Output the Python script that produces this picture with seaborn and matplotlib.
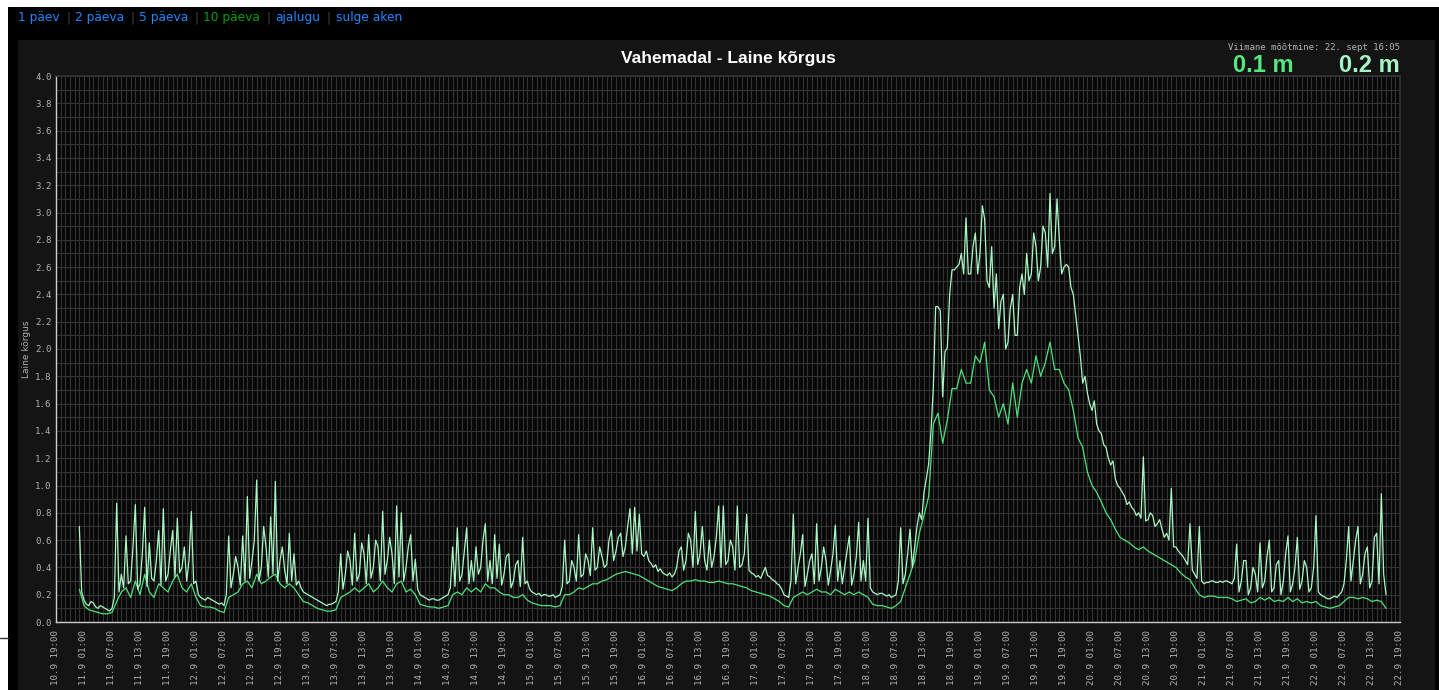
import matplotlib
matplotlib.use('Agg')
import matplotlib.pyplot as plt
import matplotlib.dates as mdates
from matplotlib.ticker import MultipleLocator, FuncFormatter
from matplotlib.patches import Rectangle
import pandas as pd
import seaborn as sns

# max wave height (m), half-hourly readings 00:00, 00:30 ... 23:30 per day
hmax_11 = [0.70, 0.22, 0.16, 0.13, 0.12, 0.15, 0.14, 0.11, 0.10, 0.12, 0.11, 0.10,
           0.09, 0.08, 0.10, 0.18, 0.87, 0.22, 0.35, 0.25, 0.63, 0.28, 0.30, 0.55,
           0.86, 0.24, 0.28, 0.50, 0.84, 0.26, 0.58, 0.32, 0.30, 0.45, 0.67, 0.27,
           0.83, 0.30, 0.35, 0.52, 0.67, 0.33, 0.76, 0.36, 0.40, 0.55, 0.30, 0.45]
hmax_12 = [0.81, 0.28, 0.30, 0.20, 0.18, 0.17, 0.16, 0.18, 0.17, 0.16, 0.15, 0.14,
           0.13, 0.14, 0.12, 0.20, 0.63, 0.25, 0.35, 0.48, 0.40, 0.27, 0.63, 0.30,
           0.92, 0.32, 0.45, 0.60, 1.04, 0.30, 0.40, 0.70, 0.55, 0.33, 0.77, 0.35,
           1.03, 0.30, 0.45, 0.55, 0.38, 0.28, 0.65, 0.30, 0.50, 0.27, 0.30, 0.25]
hmax_13 = [0.22, 0.21, 0.20, 0.19, 0.18, 0.17, 0.16, 0.15, 0.14, 0.13, 0.12, 0.13,
           0.13, 0.14, 0.15, 0.22, 0.50, 0.24, 0.35, 0.52, 0.45, 0.27, 0.65, 0.30,
           0.35, 0.58, 0.50, 0.28, 0.64, 0.32, 0.40, 0.60, 0.55, 0.30, 0.81, 0.35,
           0.45, 0.62, 0.50, 0.28, 0.85, 0.33, 0.80, 0.30, 0.40, 0.55, 0.64, 0.30]
hmax_14 = [0.46, 0.24, 0.20, 0.19, 0.18, 0.17, 0.16, 0.17, 0.17, 0.16, 0.16, 0.17,
           0.18, 0.19, 0.20, 0.25, 0.55, 0.26, 0.69, 0.30, 0.35, 0.52, 0.69, 0.28,
           0.45, 0.30, 0.55, 0.35, 0.40, 0.60, 0.72, 0.30, 0.45, 0.28, 0.64, 0.32,
           0.57, 0.27, 0.35, 0.48, 0.50, 0.25, 0.30, 0.42, 0.45, 0.26, 0.62, 0.28]
hmax_15 = [0.30, 0.24, 0.22, 0.21, 0.20, 0.21, 0.19, 0.20, 0.20, 0.19, 0.19, 0.20,
           0.18, 0.19, 0.20, 0.26, 0.60, 0.28, 0.30, 0.45, 0.40, 0.30, 0.64, 0.33,
           0.35, 0.50, 0.45, 0.34, 0.69, 0.38, 0.40, 0.55, 0.48, 0.40, 0.42, 0.60,
           0.67, 0.45, 0.52, 0.62, 0.65, 0.48, 0.55, 0.70, 0.83, 0.50, 0.84, 0.52]
hmax_16 = [0.79, 0.50, 0.48, 0.52, 0.45, 0.43, 0.40, 0.42, 0.37, 0.39, 0.36, 0.35,
           0.34, 0.36, 0.33, 0.35, 0.40, 0.52, 0.55, 0.38, 0.45, 0.65, 0.60, 0.40,
           0.81, 0.42, 0.50, 0.70, 0.45, 0.38, 0.60, 0.40, 0.48, 0.62, 0.85, 0.40,
           0.85, 0.42, 0.45, 0.60, 0.55, 0.38, 0.85, 0.40, 0.42, 0.50, 0.79, 0.38]
hmax_17 = [0.36, 0.35, 0.33, 0.34, 0.32, 0.36, 0.40, 0.34, 0.33, 0.31, 0.30, 0.28,
           0.27, 0.24, 0.20, 0.19, 0.18, 0.30, 0.79, 0.28, 0.40, 0.50, 0.64, 0.26,
           0.35, 0.45, 0.50, 0.28, 0.72, 0.30, 0.40, 0.55, 0.45, 0.27, 0.38, 0.50,
           0.71, 0.30, 0.45, 0.28, 0.40, 0.52, 0.63, 0.27, 0.35, 0.48, 0.73, 0.30]
hmax_18 = [0.45, 0.30, 0.76, 0.25, 0.22, 0.21, 0.20, 0.21, 0.21, 0.20, 0.19, 0.20,
           0.18, 0.19, 0.20, 0.30, 0.69, 0.28, 0.35, 0.50, 0.68, 0.40, 0.55, 0.70,
           0.80, 0.75, 0.95, 1.05, 1.16, 1.40, 1.72, 2.31, 2.31, 2.28, 1.65, 1.98,
           2.01, 2.40, 2.58, 2.58, 2.60, 2.62, 2.70, 2.55, 2.96, 2.55, 2.55, 2.75]
hmax_19 = [2.85, 2.55, 2.70, 3.05, 2.95, 2.50, 2.45, 2.75, 2.30, 2.55, 2.15, 2.35,
           2.40, 2.00, 2.05, 2.30, 2.40, 2.10, 2.10, 2.45, 2.55, 2.40, 2.70, 2.50,
           2.55, 2.85, 2.75, 2.50, 2.60, 2.90, 2.85, 2.60, 3.14, 2.70, 2.75, 3.10,
           2.80, 2.55, 2.60, 2.62, 2.60, 2.45, 2.40, 2.25, 2.10, 1.95, 1.75, 1.80]
hmax_20 = [1.68, 1.60, 1.55, 1.62, 1.45, 1.40, 1.38, 1.30, 1.28, 1.20, 1.15, 1.18,
           1.05, 1.00, 0.98, 0.95, 0.92, 0.86, 0.88, 0.84, 0.82, 0.78, 0.80, 0.76,
           1.21, 0.74, 0.75, 0.80, 0.78, 0.70, 0.72, 0.75, 0.68, 0.62, 0.65, 0.60,
           0.98, 0.55, 0.55, 0.52, 0.50, 0.48, 0.45, 0.42, 0.72, 0.38, 0.35, 0.32]
hmax_21 = [0.70, 0.30, 0.28, 0.29, 0.29, 0.30, 0.30, 0.29, 0.29, 0.30, 0.29, 0.30,
           0.30, 0.29, 0.28, 0.32, 0.57, 0.22, 0.30, 0.45, 0.45, 0.20, 0.25, 0.40,
           0.35, 0.22, 0.58, 0.25, 0.30, 0.48, 0.60, 0.22, 0.25, 0.42, 0.45, 0.20,
           0.30, 0.50, 0.63, 0.22, 0.28, 0.40, 0.62, 0.24, 0.30, 0.45, 0.40, 0.22]
# 22.9 00:00 .. 16:00 (last reading 16:05)
hmax_22 = [0.25, 0.40, 0.78, 0.22, 0.20, 0.19, 0.18, 0.17, 0.17, 0.18, 0.19, 0.18,
           0.20, 0.22, 0.28, 0.45, 0.70, 0.30, 0.45, 0.60, 0.70, 0.28, 0.35, 0.50,
           0.55, 0.25, 0.30, 0.62, 0.65, 0.28, 0.94, 0.35, 0.20]

# significant wave height (m), hourly readings 00:00 .. 23:00 per day
hs_11 = [0.24, 0.12, 0.09, 0.08, 0.07, 0.06, 0.06, 0.07, 0.15, 0.22, 0.25, 0.18,
         0.30, 0.20, 0.35, 0.22, 0.18, 0.28, 0.25, 0.22, 0.30, 0.35, 0.25, 0.22]
hs_12 = [0.28, 0.18, 0.12, 0.11, 0.11, 0.10, 0.08, 0.07, 0.18, 0.20, 0.22, 0.28,
         0.30, 0.25, 0.35, 0.28, 0.30, 0.33, 0.35, 0.28, 0.25, 0.28, 0.25, 0.20]
hs_13 = [0.15, 0.14, 0.12, 0.10, 0.09, 0.08, 0.08, 0.09, 0.18, 0.20, 0.22, 0.25,
         0.22, 0.25, 0.28, 0.22, 0.25, 0.30, 0.25, 0.22, 0.28, 0.30, 0.22, 0.24]
hs_14 = [0.20, 0.13, 0.12, 0.11, 0.11, 0.10, 0.11, 0.12, 0.20, 0.22, 0.20, 0.25,
         0.22, 0.25, 0.22, 0.28, 0.25, 0.25, 0.22, 0.20, 0.20, 0.18, 0.18, 0.20]
hs_15 = [0.16, 0.14, 0.13, 0.12, 0.12, 0.12, 0.11, 0.12, 0.20, 0.20, 0.22, 0.25,
         0.24, 0.26, 0.28, 0.28, 0.30, 0.31, 0.33, 0.35, 0.36, 0.37, 0.36, 0.35]
hs_16 = [0.34, 0.32, 0.30, 0.28, 0.26, 0.25, 0.24, 0.23, 0.25, 0.28, 0.30, 0.30,
         0.31, 0.30, 0.30, 0.29, 0.29, 0.30, 0.29, 0.28, 0.28, 0.27, 0.26, 0.25]
hs_17 = [0.23, 0.22, 0.21, 0.20, 0.19, 0.17, 0.15, 0.12, 0.11, 0.18, 0.20, 0.22,
         0.20, 0.22, 0.24, 0.22, 0.22, 0.20, 0.24, 0.22, 0.20, 0.22, 0.20, 0.22]
hs_18 = [0.20, 0.18, 0.13, 0.12, 0.12, 0.11, 0.10, 0.12, 0.15, 0.25, 0.35, 0.45,
         0.65, 0.78, 0.92, 1.45, 1.53, 1.31, 1.48, 1.71, 1.71, 1.85, 1.75, 1.75]
hs_19 = [1.95, 1.90, 2.05, 1.70, 1.65, 1.50, 1.60, 1.45, 1.75, 1.50, 1.75, 1.85,
         1.75, 1.95, 1.80, 1.90, 2.05, 1.85, 1.85, 1.75, 1.70, 1.55, 1.35, 1.28]
hs_20 = [1.10, 1.00, 0.95, 0.88, 0.80, 0.75, 0.68, 0.62, 0.60, 0.58, 0.55, 0.53,
         0.55, 0.52, 0.50, 0.48, 0.46, 0.44, 0.42, 0.40, 0.36, 0.33, 0.31, 0.25]
hs_21 = [0.20, 0.18, 0.19, 0.19, 0.18, 0.18, 0.18, 0.17, 0.15, 0.16, 0.17, 0.14,
         0.15, 0.18, 0.16, 0.18, 0.15, 0.16, 0.15, 0.18, 0.15, 0.17, 0.14, 0.15]
hs_22 = [0.14, 0.15, 0.12, 0.11, 0.10, 0.11, 0.12, 0.15, 0.18, 0.18, 0.17, 0.18,
         0.17, 0.15, 0.16, 0.15, 0.10]

hmax = (hmax_11 + hmax_12 + hmax_13 + hmax_14 + hmax_15 + hmax_16 + hmax_17
        + hmax_18 + hmax_19 + hmax_20 + hmax_21 + hmax_22)
hs = (hs_11 + hs_12 + hs_13 + hs_14 + hs_15 + hs_16 + hs_17
      + hs_18 + hs_19 + hs_20 + hs_21 + hs_22)

df = pd.concat([
    pd.DataFrame({'aeg': pd.date_range('2020-09-11 00:00', periods=len(hs), freq='h'),
                  'korgus': hs, 'seeria': 'hs'}),
    pd.DataFrame({'aeg': pd.date_range('2020-09-11 00:00', periods=len(hmax), freq='30min'),
                  'korgus': hmax, 'seeria': 'hmax'}),
], ignore_index=True)

links = ['1 päev', '2 päeva', '5 päeva', '10 päeva', 'ajalugu', 'sulge aken']
link_x = [18, 75, 139, 203, 275, 336]
sep_x = [69, 132, 196, 269, 329]

sns.set_theme(style='dark')
plt.rcParams['font.family'] = ['DejaVu Sans']

W, H = 1439, 690
fig = plt.figure(figsize=(W / 100, H / 100), dpi=100, facecolor='white')

# page frame: black box and dark grey chart panel
fig.patches.append(Rectangle((8 / W, 0), 1, 1 - 7 / H, transform=fig.transFigure,
                             facecolor='black', edgecolor='none', zorder=-3))
fig.patches.append(Rectangle((18 / W, 0), 1417 / W, 1 - 40 / H, transform=fig.transFigure,
                             facecolor='#141414', edgecolor='none', zorder=-2))
fig.add_artist(plt.Line2D([0, 8 / W], [1 - 638 / H] * 2, color='#333333', lw=1))

ax = fig.add_axes([56 / W, 1 - 622 / H, 1344 / W, 546 / H])
ax.set_facecolor('#080808')

sns.lineplot(data=df, x='aeg', y='korgus', hue='seeria', hue_order=['hs', 'hmax'],
             palette={'hs': '#4ee27a', 'hmax': '#aaf7c6'}, linewidth=0.9,
             legend=False, ax=ax)

ax.set_xlim(pd.Timestamp('2020-09-10 19:00'), pd.Timestamp('2020-09-22 19:00'))
ax.set_ylim(0, 4.0)

ax.yaxis.set_major_locator(MultipleLocator(0.2))
ax.yaxis.set_minor_locator(MultipleLocator(0.1))
ax.yaxis.set_major_formatter(FuncFormatter(lambda v, p: f'{v:.1f}'))
ax.xaxis.set_major_locator(mdates.HourLocator(byhour=[1, 7, 13, 19]))
ax.xaxis.set_minor_locator(mdates.HourLocator(interval=1))
ax.xaxis.set_major_formatter(FuncFormatter(
    lambda v, p: (lambda d: f'{d.day}.{d.month} {d:%H:%M}')(mdates.num2date(v))))

ax.grid(which='both', color='#333333', linewidth=0.8)
ax.tick_params(axis='both', which='both', direction='in', color='#cccccc',
               labelcolor='#b0b0b0', labelsize=6.6, length=3, width=0.8)
ax.tick_params(axis='y', which='major', length=4, pad=3)
ax.tick_params(axis='x', which='major', length=4, pad=6, labelrotation=90)
for lab in ax.get_xticklabels() + ax.get_yticklabels():
    lab.set_family('DejaVu Sans Mono')

ax.set_xlabel('')
ax.set_ylabel('Laine kõrgus', color='#b0b0b0', fontsize=6.5)
ax.yaxis.set_label_coords(-(56 - 31) / 1344, 0.5)
for side in ['left', 'bottom']:
    ax.spines[side].set_color('#cccccc')
    ax.spines[side].set_linewidth(1)
for side in ['top', 'right']:
    ax.spines[side].set_color('#333333')

fig.text(728 / W, 1 - 59 / H, 'Vahemadal - Laine kõrgus', ha='center', va='center',
         fontsize=12.5, weight='bold', color='white', family='Liberation Sans')
fig.text(1400 / W, 1 - 47 / H, 'Viimane mõõtmine: 22. sept 16:05', ha='right',
         va='center', fontsize=6.5, color='#b0b0b0', family='DejaVu Sans Mono')
fig.text(1294 / W, 1 - 66 / H, f'{hs[-1]:.1f} m', ha='right', va='center',
         fontsize=17, weight='bold', color='#55e87f', family='Liberation Sans')
fig.text(1400 / W, 1 - 66 / H, f'{hmax[-1]:.1f} m', ha='right', va='center',
         fontsize=17, weight='bold', color='#a5f5c5', family='Liberation Sans')

# link row on top
for name, x in zip(links, link_x):
    col = '#00a000' if name == '10 päeva' else '#1e88ff'
    fig.text(x / W, 1 - 18 / H, name, ha='left', va='center', fontsize=8.8, color=col)
for x in sep_x:
    fig.text(x / W, 1 - 18 / H, '|', ha='center', va='center', fontsize=8.8, color='#444444')

fig.savefig('out.png', dpi=100, facecolor=fig.get_facecolor())
